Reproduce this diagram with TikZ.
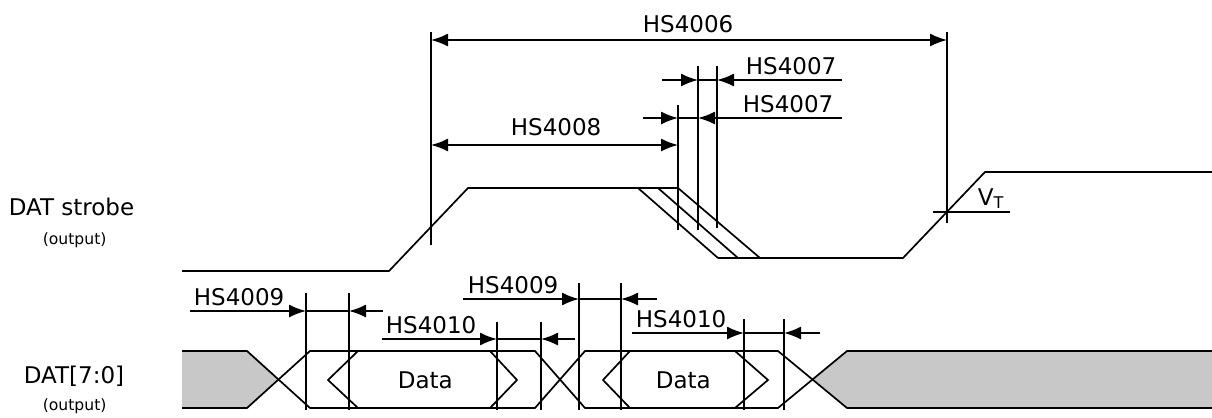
\documentclass[tikz,border=0pt]{standalone}
\usepackage{fontspec}
\setmainfont{DejaVu Sans}
\usetikzlibrary{arrows.meta}
\definecolor{busgray}{RGB}{200,200,200}

\begin{document}
\begin{tikzpicture}[x=0.5pt,y=0.5pt,yscale=-1,line width=0.85pt,
  dimarr/.style={-{Latex[length=8.5pt,width=6.5pt]}},
  dimboth/.style={{Latex[length=8.5pt,width=6.5pt]}-{Latex[length=8.5pt,width=6.5pt]}},
  lbl/.style={anchor=base west,inner sep=0pt,font=\fontsize{11.5}{13}\selectfont},
  note/.style={anchor=base west,inner sep=0pt,font=\fontsize{7.8}{9}\selectfont}]
\useasboundingbox (0,0) rectangle (1212,418);

%Shape: DAT strobe waveform
\draw   (182,271) -- (389,271) -- (468,188) -- (678,188) ;
\draw   (638,188) -- (718,258) ;
\draw   (658,188) -- (738,258) ;
\draw   (678,188) -- (760,258) ;
\draw   (718,258) -- (903,258) -- (985,172) -- (1212,172) ;

%Straight Lines: strobe reference lines
\draw    (431,32) -- (431,245) ;
\draw    (678,105) -- (678,230) ;
\draw    (698,66) -- (698,230) ;
\draw    (717,66) -- (717,228) ;
\draw    (947,32) -- (947,223) ;
\draw    (933,212) -- (1010,212) ;

%Straight Lines: strobe dimensions
\draw [dimboth]  (431,40) -- (947,40) ;
\draw [dimboth]  (431,145) -- (678,145) ;
\draw [dimarr]   (662,80) -- (698,80) ;
\draw    (698,80) -- (717,80) ;
\draw [dimarr]   (842,80) -- (717,80) ;
\draw [dimarr]   (643,118) -- (678,118) ;
\draw    (678,118) -- (698,118) ;
\draw [dimarr]   (842,118) -- (698,118) ;

%Shape: DAT[7:0] bus
\fill [busgray]  (182,351) -- (247,351) -- (278,380) -- (247,408) -- (182,408) -- cycle ;
\fill [busgray]  (813,380) -- (847,351) -- (1212,351) -- (1212,408) -- (847,408) -- cycle ;
\draw   (182,351) -- (247,351) -- (310,408) -- (535,408) -- (585,351) -- (778,351) -- (847,408) -- (1212,408) ;
\draw   (182,408) -- (247,408) -- (310,351) -- (535,351) -- (585,408) -- (778,408) -- (847,351) -- (1212,351) ;
%Shape: Data windows
\draw   (358,351) -- (328,380) -- (358,408) ;
\draw   (490,351) -- (517,380) -- (490,408) ;
\draw   (630,351) -- (603,380) -- (630,408) ;
\draw   (735,351) -- (768,380) -- (735,408) ;

%Straight Lines: bus reference lines
\draw    (306,293) -- (306,410) ;
\draw    (349,293) -- (349,410) ;
\draw    (497,322) -- (497,410) ;
\draw    (541,322) -- (541,410) ;
\draw    (579,283) -- (579,410) ;
\draw    (621,283) -- (621,410) ;
\draw    (744,319) -- (744,410) ;
\draw    (784,319) -- (784,410) ;

%Straight Lines: bus dimensions
\draw [dimarr]   (190,311) -- (306,311) ;
\draw    (306,311) -- (349,311) ;
\draw [dimarr]   (383,311) -- (349,311) ;
\draw [dimarr]   (382,339) -- (497,339) ;
\draw    (497,339) -- (541,339) ;
\draw [dimarr]   (575,339) -- (541,339) ;
\draw [dimarr]   (463,299) -- (579,299) ;
\draw    (579,299) -- (621,299) ;
\draw [dimarr]   (657,299) -- (621,299) ;
\draw [dimarr]   (632,333) -- (744,333) ;
\draw    (744,333) -- (784,333) ;
\draw [dimarr]   (820,333) -- (784,333) ;

% Text Node
\draw (642,32) node (hsA) [lbl] {HS4006};
% Text Node
\draw (745,74) node (hsB) [lbl] {HS4007};
% Text Node
\draw (742,112) node (hsC) [lbl] {HS4007};
% Text Node
\draw (510,135) node (hsD) [lbl] {HS4008};
% Text Node
\draw (193,305) node (hsE) [lbl] {HS4009};
% Text Node
\draw (385,333) node (hsF) [lbl] {HS4010};
% Text Node
\draw (467,293) node (hsG) [lbl] {HS4009};
% Text Node
\draw (635,327) node (hsH) [lbl] {HS4010};
% Text Node
\draw (397,388) node (dataA) [lbl] {Data};
% Text Node
\draw (655,388) node (dataB) [lbl] {Data};
% Text Node
\draw (977,205) node (vt) [lbl] {V\textsubscript{T}};
% Text Node
\draw (8,215) node (strobe) [lbl] {DAT strobe};
% Text Node
\draw (42,244) node (strobeout) [note] {(output)};
% Text Node
\draw (23,383) node (bus) [lbl] {DAT[7:0]};
% Text Node
\draw (42,410) node (busout) [note] {(output)};

\end{tikzpicture}
\end{document}
